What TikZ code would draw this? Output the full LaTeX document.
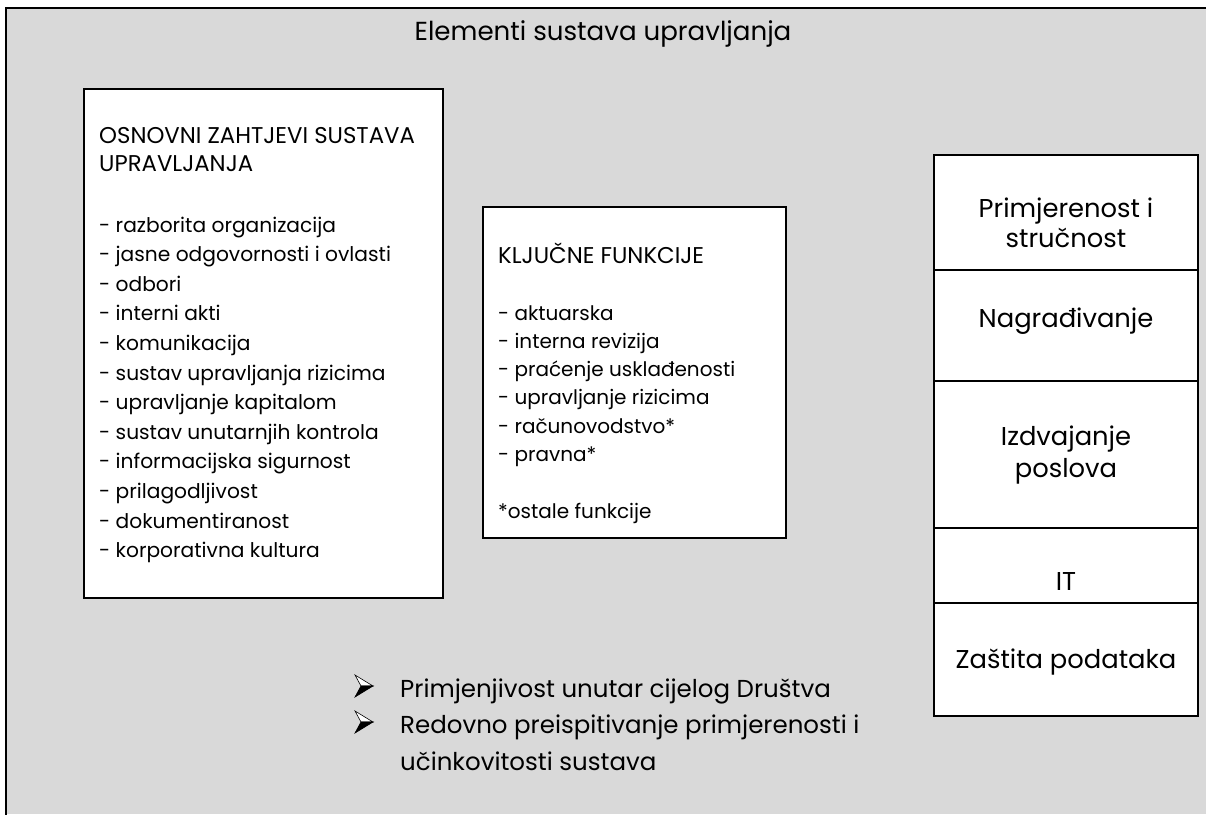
\documentclass[tikz,border=0pt]{standalone}
\usepackage{fontspec}
\setmainfont{Poppins}
\definecolor{bggray}{HTML}{D9D9D9}
\begin{document}
\begin{tikzpicture}[x=1pt,y=-1pt,
  box/.style={draw=black,line width=2pt,fill=white,inner sep=0pt,outer sep=0pt,anchor=north west},
  ltxt/.style={anchor=base west,inner sep=0pt,font=\fontsize{20.2}{24}\selectfont},
  lcap/.style={anchor=base west,inner sep=0pt,font=\fontsize{22.8}{24}\selectfont},
  mtxt/.style={anchor=base west,inner sep=0pt,font=\fontsize{20}{24}\selectfont},
  mcap/.style={anchor=base west,inner sep=0pt,font=\fontsize{22.8}{24}\selectfont},
  rtxt/.style={anchor=base,inner sep=0pt,font=\fontsize{25.8}{30}\selectfont},
  btxt/.style={anchor=base west,inner sep=0pt,font=\fontsize{24.5}{30}\selectfont},
  arrowbullet/.pic={
    \filldraw[fill=white,draw=black,line width=0.6pt] (-9,-11) -- (9,0) -- (-3,0) -- cycle;
    \filldraw[fill=black,draw=black,line width=0.6pt] (-3,0) -- (9,0) -- (-9,11) -- cycle;
  }]
\useasboundingbox (0,0) rectangle (1206,814);
\fill[bggray] (6,8) rectangle (1206,814);
\draw[line width=2pt] (6,816) -- (6,8) -- (1208,8);

\node[anchor=base,inner sep=0pt,font=\fontsize{26.1}{32}\selectfont] (title) at (603,40) {Elementi sustava upravljanja};

% left box
\node[box,minimum width=359pt,minimum height=509pt] (lbox) at (84,89) {};
\node[lcap] (lt1) at (99,143.5) {OSNOVNI ZAHTJEVI SUSTAVA};
\node[lcap] (lt2) at (99,171.5) {UPRAVLJANJA};
\foreach \t [count=\i from 0] in {- razborita organizacija,- jasne odgovornosti i ovlasti,- odbori,- interni akti,- komunikacija,- sustav upravljanja rizicima,- upravljanje kapitalom,- sustav unutarnjih kontrola,- informacijska sigurnost,- prilagodljivost,- dokumentiranost,- korporativna kultura}
  \node[ltxt] (li\i) at (99,{232+29.6*\i}) {\t};

% middle box
\node[box,minimum width=303pt,minimum height=331pt] (mbox) at (483,207) {};
\node[mcap] (mt) at (498,263.5) {KLJUČNE FUNKCIJE};
\foreach \t [count=\i from 0] in {- aktuarska,- interna revizija,- praćenje usklađenosti,- upravljanje rizicima,- računovodstvo*,- pravna*}
  \node[mtxt] (mi\i) at (498,{320+28.3*\i}) {\t};
\node[mtxt] (mf) at (498,518) {*ostale funkcije};

% right stack
\node[box,minimum width=264pt,minimum height=115pt] (r1) at (934,155) {};
\node[box,minimum width=264pt,minimum height=111pt] (r2) at (r1.south west) {};
\node[box,minimum width=264pt,minimum height=147pt] (r3) at (r2.south west) {};
\node[box,minimum width=264pt,minimum height=75pt] (r4) at (r3.south west) {};
\node[box,minimum width=264pt,minimum height=113pt] (r5) at (r4.south west) {};
\node[rtxt] (rt1a) at (1066,217) {Primjerenost i};
\node[rtxt] (rt1b) at (1066,247) {stručnost};
\node[rtxt] (rt2) at (1066,327) {Nagrađivanje};
\node[rtxt] (rt3a) at (1066,445) {Izdvajanje};
\node[rtxt] (rt3b) at (1066,477) {poslova};
\node[rtxt] (rt4) at (1066,590) {IT};
\node[rtxt] (rt5) at (1066,668) {Zaštita podataka};

% bullets
\pic at (364,686) {arrowbullet};
\pic at (364,722) {arrowbullet};
\node[btxt] (b1) at (400,697) {Primjenjivost unutar cijelog Društva};
\node[btxt] (b2) at (400,733) {Redovno preispitivanje primjerenosti i};
\node[btxt] (b3) at (400,770) {učinkovitosti sustava};
\end{tikzpicture}
\end{document}
